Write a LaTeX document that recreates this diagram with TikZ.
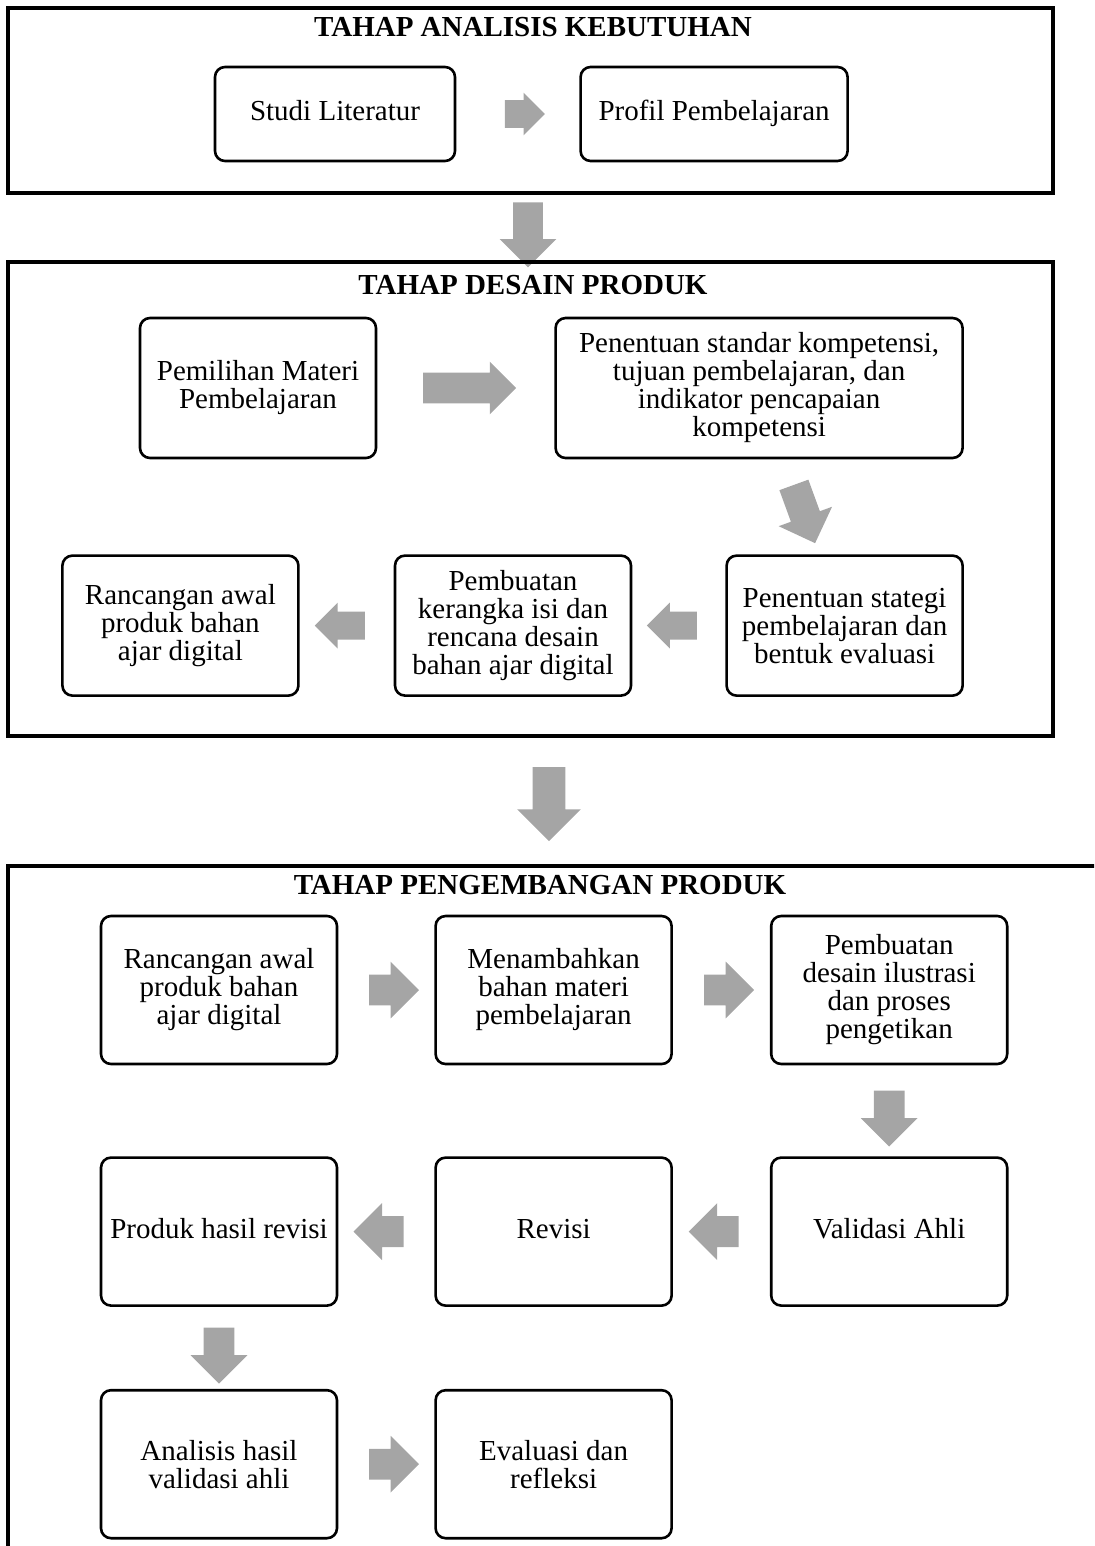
\documentclass[tikz,border=0pt]{standalone}
\usepackage{fontspec}
\setmainfont{Liberation Serif}
\usetikzlibrary{positioning, shapes.arrows, calc}
\definecolor{arrowgray}{HTML}{A5A5A5}

\begin{document}
\begin{tikzpicture}[
  x=0.5pt, y=-0.5pt, font=\fontsize{14.5}{14}\selectfont,
  frame/.style={draw, line width=1.6pt},
  block/.style={draw, rectangle, rounded corners=5pt, line width=1.3pt, align=center,
    inner sep=4pt, minimum width=118pt, minimum height=70pt},
  oneline/.style={text height=2ex, text depth=0.6ex},
  title/.style={font=\fontsize{14.5}{14}\selectfont\bfseries},
  garrow/.style n args={3}{single arrow, fill=arrowgray, inner xsep=0pt, inner ysep=#2,
    single arrow head extend=#3, minimum height=#1, outer sep=0pt}
]
\useasboundingbox (0,0) rectangle (1094,1546);
\clip (0,0) rectangle (1094,1546);

% tahap 1
\draw[frame] (8,8) rectangle (1053,193);
\node[title] (t1) at (533,27) {TAHAP ANALISIS KEBUTUHAN};
\node[block, oneline, minimum width=120pt, minimum height=47pt] (lit) at (335,114) {Studi Literatur};
\node[block, oneline, minimum width=133.5pt, minimum height=47pt, right=61.5pt of lit] (prof) {Profil Pembelajaran};
\node[garrow={20pt}{6.75pt}{3.75pt}] (a1) at (518,114) {};

\node[garrow={32.5pt}{7.25pt}{6.75pt}, rotate=-90] (d1) at (528,227.5) {};

% tahap 2
\draw[frame] (8,262) rectangle (1053,736);
\node[title] (t2) at (533,285) {TAHAP DESAIN PRODUK};
\node[block] (mat) at (258,388) {Pemilihan Materi\\Pembelajaran};
\node[block, minimum width=203.5pt, right=88.5pt of mat] (kom)
  {Penentuan standar kompetensi,\\tujuan pembelajaran, dan\\indikator pencapaian\\kompetensi};
\node[block, below=47.5pt of kom.south east, anchor=north east] (strat)
  {Penentuan stategi\\pembelajaran dan\\bentuk evaluasi};
\node[block, left=46.5pt of strat] (rangka)
  {Pembuatan\\kerangka isi dan\\rencana desain\\bahan ajar digital};
\node[block, left=47pt of rangka] (rancang) {Rancangan awal\\produk bahan\\ajar digital};

\node[garrow={46.5pt}{7.5pt}{5.5pt}] (a2) at (462,388) {};
\node[garrow={31pt}{7.5pt}{6.5pt}, rotate=-70] (a3) at ($(kom)!0.5!(strat)$) {};
\node[garrow={25pt}{6.75pt}{4.5pt}, rotate=180] (a4) at ($(rangka.east)!0.5!(strat.west)$) {};
\node[garrow={25pt}{6.75pt}{4.5pt}, rotate=180] (a5) at ($(rancang.east)!0.5!(rangka.west)$) {};

\node[garrow={37pt}{8pt}{7.75pt}, rotate=-90] (d2) at (549,796) {};

% tahap 3
\draw[frame] (1100,866) -- (8,866) -- (8,1560);
\node[title] (t3) at (540,885) {TAHAP PENGEMBANGAN PRODUK};
\node[block, minimum height=74pt] (awal) at (219,990) {Rancangan awal\\produk bahan\\ajar digital};
\node[block, minimum height=74pt, right=48pt of awal] (tambah) {Menambahkan\\bahan materi\\pembelajaran};
\node[block, minimum height=74pt, right=48.5pt of tambah] (desain)
  {Pembuatan\\desain ilustrasi\\dan proses\\pengetikan};
\node[block, oneline, minimum height=74pt, below=45.5pt of desain] (valid) {Validasi Ahli};
\node[block, oneline, minimum height=74pt, left=48.5pt of valid] (revisi) {Revisi};
\node[block, oneline, minimum height=74pt, left=48pt of revisi] (hasil) {Produk hasil revisi};
\node[block, minimum height=74pt, below=41pt of hasil] (analisis) {Analisis hasil\\validasi ahli};
\node[block, minimum height=74pt, right=48pt of analisis] (eval) {Evaluasi dan\\refleksi};

\node[garrow={25pt}{7.5pt}{6.5pt}] (b1) at ($(awal.east)!0.5!(tambah.west)$) {};
\node[garrow={25pt}{7.5pt}{6.5pt}] (b2) at ($(tambah.east)!0.5!(desain.west)$) {};
\node[garrow={28pt}{7.5pt}{6.5pt}, rotate=-90] (b3) at ($(desain.south)!0.5!(valid.north)$) {};
\node[garrow={25pt}{7.5pt}{6.5pt}, rotate=180] (b4) at ($(revisi.east)!0.5!(valid.west)$) {};
\node[garrow={25pt}{7.5pt}{6.5pt}, rotate=180] (b5) at ($(hasil.east)!0.5!(revisi.west)$) {};
\node[garrow={28pt}{7.5pt}{6.5pt}, rotate=-90] (b6) at ($(hasil.south)!0.5!(analisis.north)$) {};
\node[garrow={25pt}{7.5pt}{6.5pt}] (b7) at ($(analisis.east)!0.5!(eval.west)$) {};

\end{tikzpicture}
\end{document}
